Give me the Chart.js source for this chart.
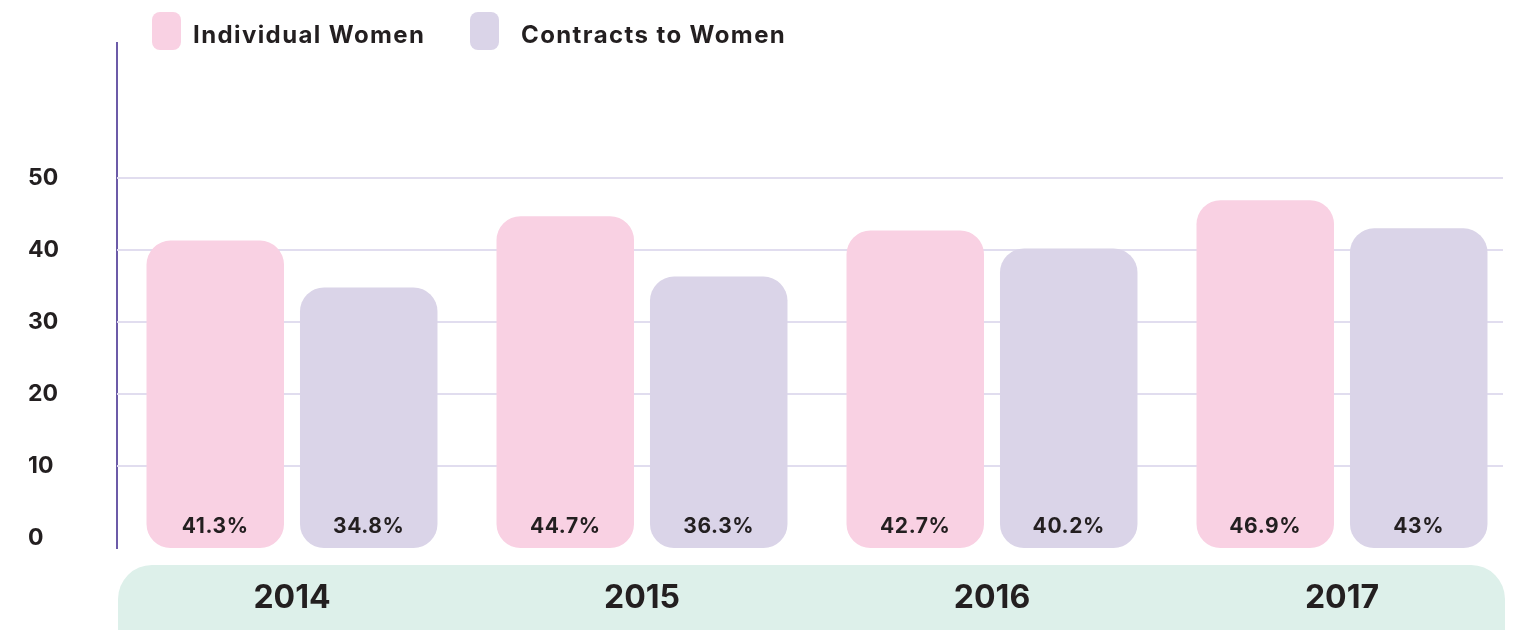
<!DOCTYPE html>
<html>
<head>
<meta charset="utf-8">
<script src="https://cdn.jsdelivr.net/npm/chart.js@4"></script>
<style>
  html, body { margin: 0; padding: 0; background: #fff; }
  #wrap { position: relative; width: 1519px; height: 630px; overflow: hidden; }
  #legend { position: absolute; left: 0; top: 12px; width: 1519px; height: 40px;
            font-family: Inter, "Noto Sans", sans-serif; font-weight: 700; font-size: 24px;
            letter-spacing: 1.4px; color: #231f20; }
  .swatch { position: absolute; top: 0; width: 29px; height: 38px; border-radius: 8px; }
  .ltext { position: absolute; top: 8px; white-space: nowrap; line-height: 30px; }
</style>
</head>
<body>
<div id="wrap">
  <canvas id="chart"></canvas>
  <div id="legend"></div>
</div>
<script>
// Data
const YEARS = ['2014', '2015', '2016', '2017'];
const INDIVIDUAL = [41.3, 44.7, 42.7, 46.9];
const CONTRACTS = [34.8, 36.3, 40.2, 43];
const Y_TICKS = [0, 10, 20, 30, 40, 50];

const SERIES = [
  { label: 'Individual Women', values: INDIVIDUAL, color: '#f9d1e3' },
  { label: 'Contracts to Women', values: CONTRACTS, color: '#dad4e8' },
];

// legend layout: swatch left edge and text left edge per item
const LEGEND_POS = [[152, 193], [470, 521]];

const TEXT = '#231f20';
const FONT = 'Inter, "Noto Sans", sans-serif';

// Legend (HTML, sits over the top of the plot like the original)
const legendEl = document.getElementById('legend');
SERIES.forEach((s, i) => {
  const sw = document.createElement('div');
  sw.className = 'swatch';
  sw.style.left = LEGEND_POS[i][0] + 'px';
  sw.style.background = s.color;
  const tx = document.createElement('div');
  tx.className = 'ltext';
  tx.style.left = LEGEND_POS[i][1] + 'px';
  tx.textContent = s.label;
  legendEl.appendChild(sw);
  legendEl.appendChild(tx);
});

// Mint band behind the year labels
const bandPlugin = {
  id: 'band',
  beforeDraw(chart) {
    const { ctx, chartArea } = chart;
    ctx.save();
    ctx.fillStyle = '#ddf0ea';
    ctx.beginPath();
    ctx.roundRect(chartArea.left + 1, chartArea.bottom + 17, chartArea.right - chartArea.left - 13, 110, 34);
    ctx.fill();
    ctx.restore();
  }
};

// Horizontal grid lines that stop short of the right edge
const gridPlugin = {
  id: 'grid',
  beforeDatasetsDraw(chart) {
    const { ctx, chartArea, scales } = chart;
    ctx.save();
    ctx.strokeStyle = '#e1ddef';
    ctx.lineWidth = 2;
    Y_TICKS.filter(v => v > 0).forEach(v => {
      const y = Math.round(scales.y.getPixelForValue(v));
      ctx.beginPath();
      ctx.moveTo(chartArea.left, y);
      ctx.lineTo(chartArea.right - 14, y);
      ctx.stroke();
    });
    ctx.restore();
  }
};

// Percent labels near the bottom of each bar
const valuePlugin = {
  id: 'values',
  afterDatasetsDraw(chart) {
    const { ctx } = chart;
    ctx.save();
    ctx.font = `700 21px ${FONT}`;
    ctx.letterSpacing = '0.6px';
    ctx.fillStyle = TEXT;
    ctx.textAlign = 'center';
    ctx.textBaseline = 'middle';
    chart.data.datasets.forEach((ds, di) => {
      chart.getDatasetMeta(di).data.forEach((bar, i) => {
        ctx.fillText(ds.data[i] + '%', bar.x, bar.base - 21);
      });
    });
    ctx.restore();
  }
};

new Chart(document.getElementById('chart'), {
  type: 'bar',
  data: {
    labels: YEARS,
    datasets: SERIES.map(s => ({
      label: s.label,
      data: s.values,
      backgroundColor: s.color,
      base: -1.4,
      borderRadius: 24,
      borderSkipped: false,
      categoryPercentage: 0.877,
      barPercentage: 0.896,
    }))
  },
  options: {
    responsive: true,
    maintainAspectRatio: false,
    animation: false,
    layout: { padding: { top: 43, left: 28, right: 2, bottom: 0 } },
    plugins: { legend: { display: false }, tooltip: { enabled: false } },
    scales: {
      x: {
        grid: { display: false, drawTicks: false },
        border: { display: false },
        ticks: { color: TEXT, font: { family: FONT, size: 32, weight: '700' }, padding: 31 },
        afterFit: s => { s.height = 82; }
      },
      y: {
        min: -1.4,
        max: 68.75,
        grid: { display: false, drawTicks: false },
        border: { display: true, color: '#6c5ba8', width: 2 },
        afterBuildTicks: s => { s.ticks = Y_TICKS.map(v => ({ value: v })); },
        ticks: { color: TEXT, crossAlign: 'far', font: { family: FONT, size: 23, weight: '700' }, padding: 0 },
        afterFit: s => { s.width = 89; }
      }
    }
  },
  plugins: [bandPlugin, gridPlugin, valuePlugin]
});
</script>
</body>
</html>
